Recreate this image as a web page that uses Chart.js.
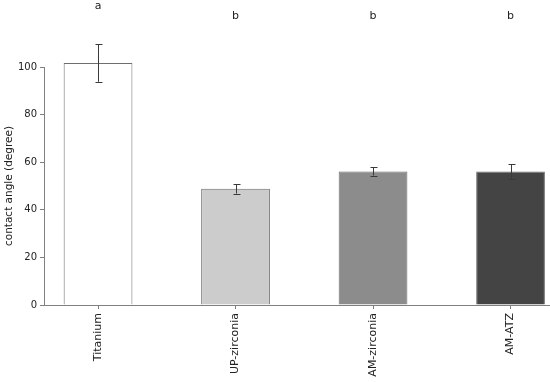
<!DOCTYPE html>
<html>
<head>
<meta charset="utf-8">
<script src="https://cdn.jsdelivr.net/npm/chart.js@4"></script>
<style>
  html, body { margin: 0; padding: 0; background: #fff; }
  #wrap { width: 550px; height: 382px; position: relative; }
</style>
</head>
<body>
<div id="wrap"><canvas id="angleChart"></canvas></div>
<script>
// values
const categories = ['Titanium', 'UP-zirconia', 'AM-zirconia', 'AM-ATZ'];
const means = [101.7, 48.8, 56.1, 56.1];
const sds = [7.9, 2.0, 1.7, 3.1];
const letters = ['a', 'b', 'b', 'b'];
const letterLevels = [125.5, 121.3, 121.3, 121.3];
const barColors = ['#ffffff', '#cccccc', '#8c8c8c', '#444444'];
const yTicks = [0, 20, 40, 60, 80, 100];

const FONT = 'DejaVu Sans';

// error bars + significance letters
const extras = {
    id: 'extras',
    afterDatasetsDraw(chart) {
        const c = chart.ctx;
        const x = chart.scales.x, y = chart.scales.y;
        c.save();
        c.strokeStyle = '#3a3a3a';
        c.lineWidth = 1;
        means.forEach((m, i) => {
            const px = Math.round(x.getPixelForValue(i)) + 0.5;
            const top = y.getPixelForValue(m + sds[i]);
            const bot = y.getPixelForValue(m - sds[i]);
            c.beginPath();
            c.moveTo(px, top); c.lineTo(px, bot);
            c.moveTo(px - 3, Math.round(top) + 0.5); c.lineTo(px + 4, Math.round(top) + 0.5);
            c.moveTo(px - 3, Math.round(bot) + 0.5); c.lineTo(px + 4, Math.round(bot) + 0.5);
            c.stroke();
        });
        c.fillStyle = '#222';
        c.font = '11px "' + FONT + '"';
        c.textAlign = 'center';
        c.textBaseline = 'middle';
        letters.forEach((l, i) => {
            c.fillText(l, x.getPixelForValue(i), y.getPixelForValue(letterLevels[i]));
        });
        c.restore();
    }
};

const ctx = document.getElementById('angleChart').getContext('2d');

new Chart(ctx, {
    type: 'bar',
    data: {
        datasets: [{
            data: means.map((v, i) => ({ x: i, y: v })),
            backgroundColor: barColors,
            borderColor: '#6e6e6e',
            borderWidth: 1,
            categoryPercentage: 1,
            barPercentage: 0.5,
            clip: false
        }]
    },
    options: {
        responsive: true,
        maintainAspectRatio: false,
        animation: false,
        layout: { padding: { top: 67, right: 0, left: 0, bottom: 0 } },
        plugins: { legend: { display: false }, tooltip: { enabled: false } },
        scales: {
            x: {
                type: 'linear',
                min: -0.393,
                max: 3.287,
                offset: false,
                afterBuildTicks: s => { s.ticks = categories.map((_, i) => ({ value: i })); },
                afterFit: s => { s.height = 77; },
                grid: { offset: false, drawOnChartArea: false, drawTicks: true, tickLength: 4, color: '#808080' },
                border: { color: '#808080' },
                ticks: {
                    minRotation: 90, maxRotation: 90, padding: 4,
                    color: '#222',
                    font: { family: FONT, size: 11 },
                    callback: v => categories[v]
                }
            },
            y: {
                min: 0,
                max: 100,
                afterBuildTicks: s => { s.ticks = yTicks.map(v => ({ value: v })); },
                afterFit: s => { s.width = 44; },
                grid: { drawOnChartArea: false, drawTicks: true, tickLength: 4, color: '#808080' },
                border: { color: '#808080' },
                ticks: { padding: 3, color: '#222', font: { family: FONT, size: 10 } },
                title: {
                    display: true,
                    text: 'contact angle (degree)',
                    color: '#222',
                    font: { family: FONT, size: 10.5 },
                    padding: { top: 3, bottom: 0 }
                }
            }
        }
    },
    plugins: [extras]
});
</script>
</body>
</html>
